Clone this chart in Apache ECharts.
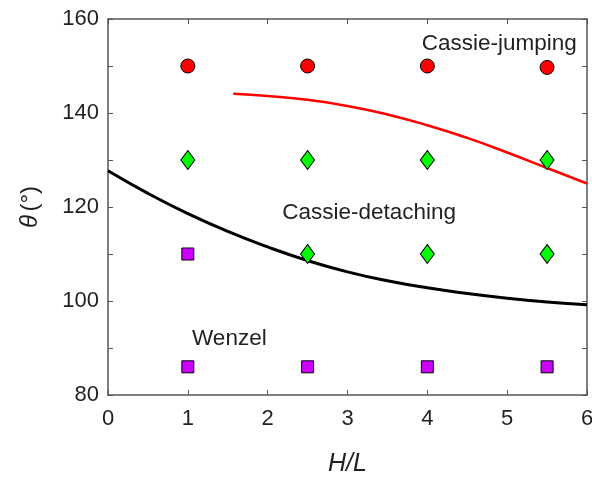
<!DOCTYPE html>
<html>
<head>
<meta charset="utf-8">
<script src="https://cdn.jsdelivr.net/npm/echarts@6/dist/echarts.min.js"></script>
<style>
  html, body { margin: 0; padding: 0; background: #fff; }
  #main { width: 592px; height: 477px; }
</style>
</head>
<body>
<div id="main"></div>
<script>
// measured points (H/L, theta)
var jumping = [[1, 150], [2.5, 150], [4, 150], [5.5, 149.7]];
var detaching = [[1, 130], [2.5, 130], [4, 130], [5.5, 130], [2.5, 110], [4, 110], [5.5, 110]];
var wenzel = [[1, 110], [1, 86], [2.5, 86], [4, 86], [5.5, 86]];

// boundary curves
var redCurve = [[1.57, 144.1], [2, 143.6], [2.5, 142.8], [3, 141.5], [3.5, 139.7], [4, 137.4], [4.5, 134.7], [5, 131.6], [5.5, 128.3], [6, 125]];
var blackCurve = [[0, 127.7], [0.5, 122.9], [1, 118.6], [1.5, 114.8], [2, 111.5], [2.5, 108.6], [3, 106.2], [3.5, 104.3], [4, 102.8], [4.5, 101.6], [5, 100.6], [5.5, 99.8], [6, 99.2]];

// region labels
var regionNames = ['Cassie-jumping', 'Cassie-detaching', 'Wenzel'];
var regionPos = [[4.9, 154.8], [3.27, 118.8], [1.52, 92]];

var font = '"Liberation Sans", Arial, sans-serif';
var txt = '#231f20';
var axisCol = '#555';

var chartDom = document.getElementById('main');
var myChart = echarts.init(chartDom);
var option;

function xAx(pos, show) {
  return {
    type: 'value', position: pos, min: 0, max: 6, interval: 1,
    axisLine: { show: true, onZero: false, lineStyle: { color: axisCol, width: 1.5 } },
    axisTick: { show: true, inside: true, length: 5, lineStyle: { color: axisCol } },
    axisLabel: { show: show, color: txt, fontSize: 22, fontFamily: font, margin: 13 },
    splitLine: { show: false }
  };
}
function yAx(pos, show) {
  return {
    type: 'value', position: pos, min: 80, max: 160, interval: 10,
    axisLine: { show: true, onZero: false, lineStyle: { color: axisCol, width: 1.5 } },
    axisTick: { show: true, inside: true, length: 5, lineStyle: { color: axisCol } },
    axisLabel: {
      show: show, color: txt, fontSize: 22, fontFamily: font, margin: 9,
      formatter: function (v) { return v % 20 === 0 ? v : ''; }
    },
    splitLine: { show: false }
  };
}

var x0 = xAx('bottom', true);
x0.name = '{i|H/L}';
x0.nameLocation = 'middle';
x0.nameGap = 57;
x0.nameTextStyle = {
  rich: {
    i: { fontSize: 25, fontStyle: 'italic', fontFamily: font, color: txt }
  }
};
var y0 = yAx('left', true);
y0.name = '{i|θ} {n|(°)}';
y0.nameLocation = 'middle';
y0.nameGap = 66;
y0.nameTextStyle = {
  rich: {
    i: { fontSize: 24, fontStyle: 'italic', fontFamily: font, color: txt },
    n: { fontSize: 24, fontFamily: font, color: txt }
  }
};

option = {
  animation: false,
  grid: { left: 108, right: 5, top: 19, bottom: 82, outerBoundsMode: 'none' },
  xAxis: [x0, xAx('top', false)],
  yAxis: [y0, yAx('right', false)],
  series: [
    {
      type: 'line', data: blackCurve, smooth: true, showSymbol: false,
      lineStyle: { color: '#000', width: 3 }, z: 2
    },
    {
      type: 'line', data: redCurve, smooth: true, showSymbol: false,
      lineStyle: { color: '#ff0000', width: 2.5 }, z: 2
    },
    {
      type: 'scatter', data: jumping, symbol: 'circle', symbolSize: 14,
      itemStyle: { color: '#ff0000', borderColor: '#000', borderWidth: 1, opacity: 1 }, z: 3
    },
    {
      type: 'scatter', data: detaching, symbol: 'diamond', symbolSize: [14, 19],
      itemStyle: { color: '#00ff00', borderColor: '#000', borderWidth: 1, opacity: 1 }, z: 3
    },
    {
      type: 'scatter', data: wenzel, symbol: 'rect', symbolSize: 12,
      itemStyle: { color: '#cc00ff', borderColor: '#000', borderWidth: 1, opacity: 1 }, z: 3
    },
    {
      type: 'scatter', symbolSize: 0, silent: true,
      itemStyle: { opacity: 1 },
      data: regionPos.map(function (p, i) { return { value: p, name: regionNames[i] }; }),
      label: {
        show: true, position: 'inside', formatter: '{b}',
        color: txt, fontSize: 22.5, fontFamily: font
      }, z: 4
    }
  ]
};

myChart.setOption(option);
</script>
</body>
</html>
